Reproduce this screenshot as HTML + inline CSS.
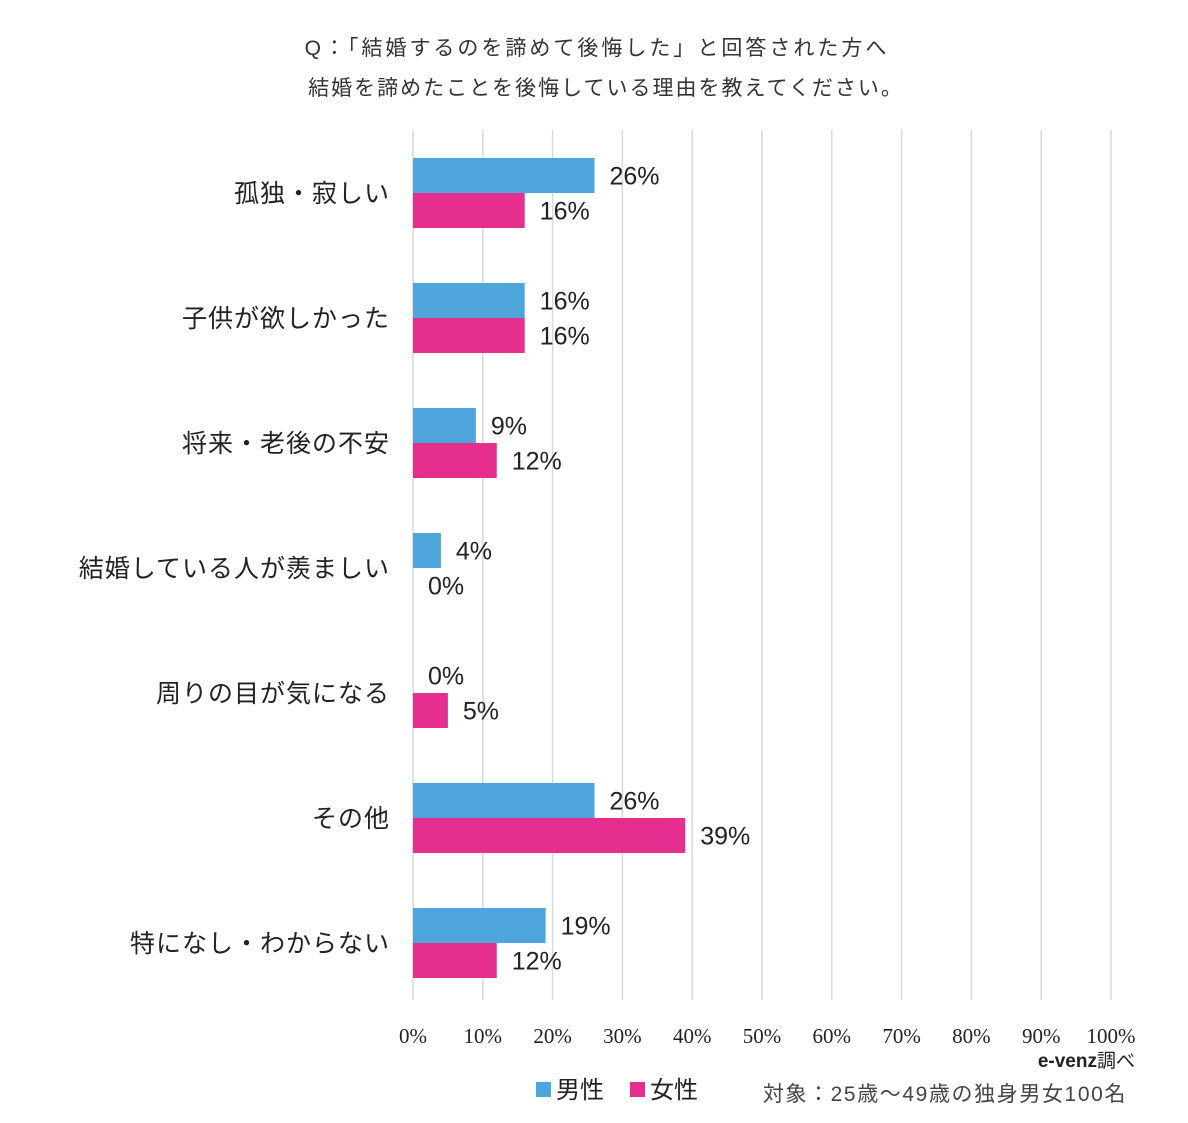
<!DOCTYPE html>
<html><head><meta charset="utf-8">
<style>
body{margin:0;background:#fff;}
svg{display:block;font-family:"Liberation Sans","Noto Sans CJK JP",sans-serif;}
</style></head>
<body>
<svg id="chart" width="1188" height="1123" viewBox="0 0 1188 1123" xmlns="http://www.w3.org/2000/svg">
<text x="597" y="55" text-anchor="middle" font-size="21" letter-spacing="3" fill="#333">Q：「結婚するのを諦めて後悔した」と回答された方へ</text>
<text x="606" y="95" text-anchor="middle" font-size="21" letter-spacing="2" fill="#333">結婚を諦めたことを後悔している理由を教えてください。</text>
<g id="grid"></g>
<g id="bars"></g>
<g id="xticks"></g>
<text x="1135" y="1067" text-anchor="end" font-size="19" fill="#222"><tspan font-weight="bold">e-venz</tspan>調べ</text>
<g>
<rect x="536" y="1082" width="15" height="15" fill="#4EA5DC"/>
<text x="556" y="1098" font-size="24" fill="#222">男性</text>
<rect x="630" y="1082" width="15" height="15" fill="#E52E8E"/>
<text x="650" y="1098" font-size="24" fill="#222">女性</text>
</g>
<text x="1127" y="1101" text-anchor="end" font-size="21" letter-spacing="1.6" fill="#444">対象：25歳〜49歳の独身男女100名</text>
</svg>
<script>
const categories=["孤独・寂しい","子供が欲しかった","将来・老後の不安","結婚している人が羨ましい","周りの目が気になる","その他","特になし・わからない"];
const maleValues=[26,16,9,4,0,26,19];
const femaleValues=[16,16,12,0,5,39,12];
const tickValues=[0,10,20,30,40,50,60,70,80,90,100];
const tickLabels=["0%","10%","20%","30%","40%","50%","60%","70%","80%","90%","100%"];

const NS="http://www.w3.org/2000/svg";
const x0=413,x1=1111,yTop=130,yBottom=1000,firstCenter=193,step=125,barH=35;
function xScale(v){return x0+(x1-x0)*v/100;}
function yCenter(i){return firstCenter+i*step;}
function mk(tag,attrs,parent){const e=document.createElementNS(NS,tag);for(const k in attrs)e.setAttribute(k,attrs[k]);parent.appendChild(e);return e;}
const grid=document.getElementById('grid'),bars=document.getElementById('bars'),xt=document.getElementById('xticks');
tickValues.forEach((v,i)=>{
  const l=mk('line',{x1:xScale(v),x2:xScale(v),y1:yTop,y2:yBottom,stroke:'#d9d9d9','stroke-width':1.5},grid);
  
  
  const t=mk('text',{x:xScale(v),y:1043,'text-anchor':'middle','font-size':21,fill:'#222','font-family':'"Liberation Serif",serif'},xt);
  t.textContent=tickLabels[i];
  
  
});
categories.forEach((c,i)=>{
  const cy=yCenter(i);
  const lab=mk('text',{x:390,y:cy+9,'text-anchor':'end','font-size':25,fill:'#222','letter-spacing':1},bars);
  lab.textContent=c;
  
  
  [[maleValues[i],'#4EA5DC',cy-barH,'male'],[femaleValues[i],'#E52E8E',cy,'female']].forEach(([v,col,y,s])=>{
    if(v>0){
      const r=mk('rect',{x:x0,y:y,width:xScale(v)-x0,height:barH,fill:col},bars);
      
      
    }
    const t=mk('text',{x:xScale(v)+15,y:y+barH/2+9,'font-size':25,fill:'#222'},bars);
    t.textContent=v+'%';
    
    
  });
});
</script>
</body></html>
